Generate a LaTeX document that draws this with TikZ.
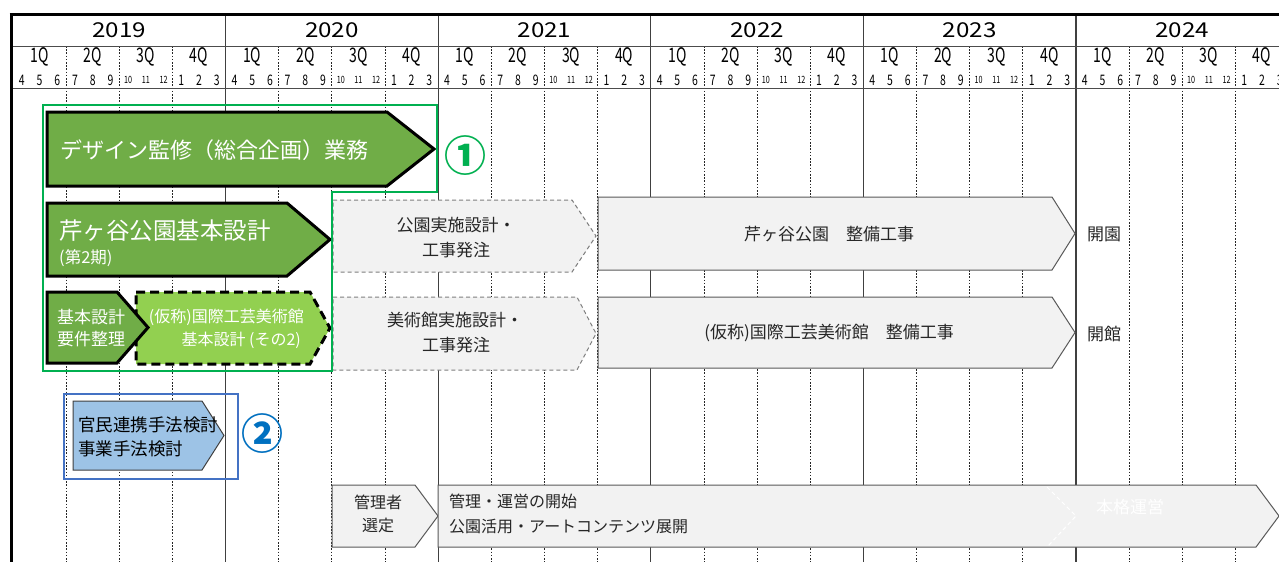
\documentclass[tikz,border=0pt]{standalone}
\usepackage{fontspec}
\setmainfont{Noto Sans CJK JP}
\usepackage{graphicx}
\definecolor{dkgreen}{HTML}{70AD47}
\definecolor{ltgreen}{HTML}{92D050}
\definecolor{brgreen}{HTML}{00B050}
\definecolor{boxgray}{HTML}{F2F2F2}
\definecolor{edgegray}{HTML}{7F7F7F}
\definecolor{solidgray}{HTML}{595959}
\definecolor{bluefill}{HTML}{9DC3E6}
\definecolor{blueline}{HTML}{4472C4}
\definecolor{bluetext}{HTML}{0070C0}
\definecolor{txtdark}{HTML}{262626}
\newcommand\arrowpath[6]{\path[#1] (#2,#3) -- (#6,#3) -- (#4,{(#3+#5)/2}) -- (#6,#5) -- (#2,#5) -- cycle;}
\begin{document}
\begin{tikzpicture}[x=1pt,y=-1pt,
  every node/.style={inner sep=0pt},
  yearline/.style={draw=black!75, line width=1.1pt},
  qline/.style={draw=black!85, line width=0.9pt, dash pattern=on 1.6pt off 1.6pt},
  hline/.style={draw=black!70, line width=1pt},
  yearlab/.style={font=\fontsize{20.5}{22}\selectfont},
  qlab/.style={font=\fontsize{20}{22}\selectfont},
  monthbig/.style={font=\fontsize{14.5}{16}\selectfont},
  monthsmall/.style={font=\fontsize{10}{11}\selectfont},
  greenbox/.style={fill=dkgreen, draw=black, line width=3pt},
  greendash/.style={fill=ltgreen, draw=black, line width=3pt, dash pattern=on 9pt off 5pt},
  graydash/.style={fill=boxgray, draw=edgegray, line width=1pt, dash pattern=on 4pt off 3pt},
  graysolid/.style={fill=boxgray, draw=solidgray, line width=1pt},
  bluebox/.style={fill=bluefill, draw=black!75, line width=1pt},
  wtext/.style={text=white},
  dtext/.style={text=txtdark},
  f16/.style={font=\fontsize{16}{18}\selectfont},
  f17/.style={font=\fontsize{17}{19}\selectfont},
]
\useasboundingbox (0,0) rectangle (1279,562);
\clip (0,0) rectangle (1279,562);
\fill[white] (0,0) rectangle (1279,562);
% ---- grid ----
\foreach \k in {1,...,24}{
  \pgfmathsetmacro\xx{13+53.15*\k}
  \pgfmathtruncatemacro\r{mod(\k,4)}
  \ifnum\r=0 \draw[yearline] (\xx,13) -- (\xx,562);
  \else \draw[qline] (\xx,46) -- (\xx,562); \fi
}
\draw[hline] (11,46) -- (1279,46);
\draw[hline] (11,88) -- (1279,88);
\draw[black, line width=3pt] (9.5,14.3) -- (1279,14.3);
\draw[black, line width=2.7pt] (11.3,13) -- (11.3,562);
% ---- header labels ----
\foreach \yr/\lab in {0/2019,1/2020,2/2021,3/2022,4/2023,5/2024}{
  \node[yearlab] (y\lab) at ({13+212.6*(\yr+0.5)},30.5) {\scalebox{1.18}[1]{\lab}};
  \foreach \q/\ma/\mb/\mc/\ms in {0/4/5/6/monthbig,1/7/8/9/monthbig,2/10/11/12/monthsmall,3/1/2/3/monthbig}{
    \pgfmathsetmacro\xq{13+212.6*\yr+53.15*\q}
    \node[qlab] (q-\yr-\q) at ({\xq+26.6},56.5) {\scalebox{0.7}[1]{\the\numexpr\q+1\relax Q}};
    \node[\ms] (m-\yr-\q-a) at ({\xq+8.86},80) {\scalebox{0.72}[1]{\ma}};
    \node[\ms] (m-\yr-\q-b) at ({\xq+26.58},80) {\scalebox{0.72}[1]{\mb}};
    \node[\ms] (m-\yr-\q-c) at ({\xq+44.3},80) {\scalebox{0.72}[1]{\mc}};
  }
}
% ---- phase 1 (green) ----
\arrowpath{greendash}{136}{292}{330}{364}{310}
\arrowpath{greenbox}{47}{112}{434}{186}{387}
\arrowpath{greenbox}{47}{203}{330}{276}{287}
\arrowpath{greenbox}{47}{292}{148}{363}{117}
\node[wtext, anchor=west, font=\fontsize{22}{24}\selectfont] (design) at (60,150) {デザイン監修（総合企画）業務};
\node[wtext, anchor=west, font=\fontsize{23.5}{25}\selectfont] (serigaya) at (59,231) {芹ヶ谷公園基本設計};
\node[wtext, anchor=west, font=\fontsize{16.5}{18}\selectfont] (dai2) at (59,258) {(第2期)};
\node[wtext, f17] (kihon1) at (91,317) {基本設計};
\node[wtext, f17] (kihon2) at (91,339) {要件整理};
\node[wtext, anchor=east, f16] (kasho1) at (304,317) {(仮称)国際工芸美術館};
\node[wtext, anchor=east, f16] (kasho2) at (301,340) {基本設計 (その2)};
% ---- gray boxes ----
\arrowpath{graydash}{333}{200}{596}{272}{572}
\arrowpath{graydash}{333}{297}{596}{370}{577}
\arrowpath{graysolid}{598}{197}{1075}{270}{1052}
\arrowpath{graysolid}{598}{297}{1075}{368}{1052}
\node[dtext, f17] (koen1) at (456,225) {公園実施設計・};
\node[dtext, f17] (koen2) at (456,250) {工事発注};
\node[dtext, f17] (bijutsu1) at (455,320) {美術館実施設計・};
\node[dtext, f17] (bijutsu2) at (456,345) {工事発注};
\node[dtext, f17] (seibi1) at (829,234) {芹ヶ谷公園　整備工事};
\node[dtext, f17] (seibi2) at (829,333) {(仮称)国際工芸美術館　整備工事};
\node[dtext, f17, anchor=west] (kaien) at (1087,234) {開園};
\node[dtext, f17, anchor=west] (kaikan) at (1087,334) {開館};
% green outline and circled 1
\draw[brgreen, line width=2.5pt] (43,105) -- (437,105) -- (437,192) -- (332,192) -- (332,371) -- (43,371) -- cycle;
\node[text=brgreen, font=\fontsize{42}{44}\selectfont\bfseries] (c1) at (465,156) {①};
% ---- phase 2 (blue) ----
\draw[blueline, line width=2.8pt] (64,394) rectangle (238,479);
\arrowpath{bluebox}{73}{401}{224}{470}{202}
\node[anchor=west, font=\fontsize{17.5}{19}\selectfont] (kanmin) at (78,425) {官民連携手法検討};
\node[anchor=west, font=\fontsize{17.5}{19}\selectfont] (jigyo) at (78,449) {事業手法検討};
\node[text=bluetext, font=\fontsize{42}{44}\selectfont\bfseries] (c2) at (262,434) {②};
% ---- operation ----
\arrowpath{graysolid}{332}{485}{438}{547}{415}
\arrowpath{graysolid}{438}{485}{1279}{547}{1256}
\node[dtext, f16] (kanri1) at (378,502) {管理者};
\node[dtext, f16] (kanri2) at (378,525) {選定};
\node[dtext, f16, anchor=west] (unei1) at (449,501) {管理・運営の開始};
\node[dtext, f16, anchor=west] (unei2) at (449,526) {公園活用・アートコンテンツ展開};
\coordinate (w1) at (1047,487);
\coordinate (w2) at (1076,516);
\coordinate (w3) at (1048,546);
\draw[white, line width=1pt, dash pattern=on 4pt off 3pt] (w1) -- (w2) -- (w3);
\node[text=white, f17] (honkaku) at (1130,507) {本格運営};
\end{tikzpicture}
\end{document}
